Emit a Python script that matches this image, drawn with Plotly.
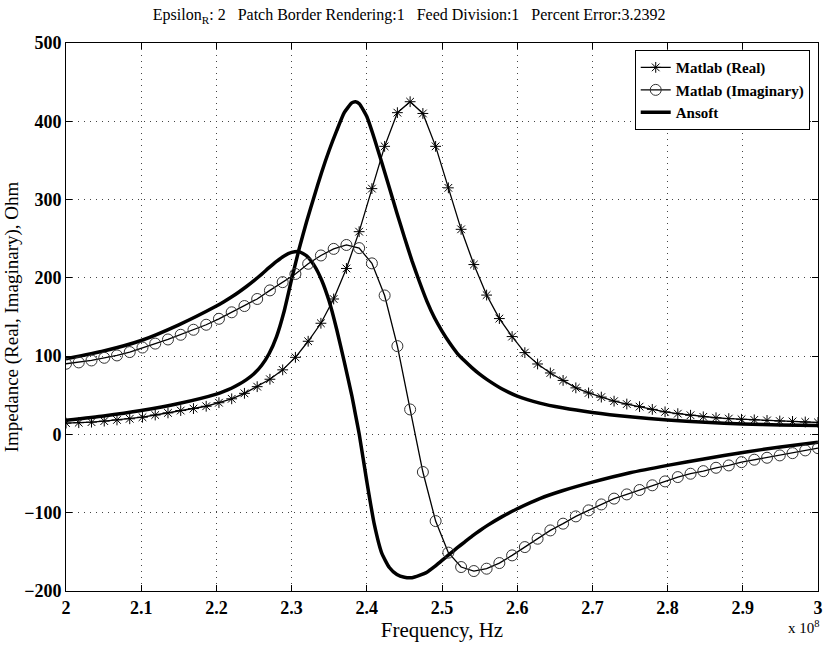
import numpy as np
import plotly.graph_objects as go

# ---------------- data ----------------
# Matlab samples: 60 evenly spaced frequencies from 2e8 to 3e8 Hz
matlab_freq = np.linspace(2e8, 3e8, 60)
matlab_real = [14.5, 15.0, 15.7, 17.0, 18.5, 20.0, 22.0, 24.8, 27.5, 30.5,
               33.0, 36.0, 40.5, 45.5, 52.5, 61.0, 70.5, 82.5, 98.5, 119,
               142, 173, 212, 259, 314, 368, 411, 425, 410, 368,
               315, 262, 217, 178, 148, 125, 104.5, 90, 78.5, 69,
               59.5, 53, 47.7, 42.5, 38.8, 35.5, 32, 28.8, 26.5, 24.5,
               22.5, 21.3, 20.2, 19.3, 18.6, 17.9, 17.1, 16.6, 15.9, 15.3]
matlab_imag = [90.3, 92, 94.5, 97.9, 100.9, 105.2, 111, 116, 121.3, 127.3,
               133.7, 140.1, 147.7, 156, 164, 173, 184, 194.5, 205, 218,
               228.6, 237, 242, 238, 218.5, 177.5, 112.8, 31.9, -48, -110.7,
               -151, -169.4, -174.5, -171.5, -164.3, -154.5, -143.9, -133.2, -122.6, -114,
               -104.7, -97, -89.4, -82, -76.6, -71, -65, -60, -54.5, -50.2,
               -46.9, -42.6, -39.6, -35.4, -32.3, -29.8, -26.8, -23.9, -20.4, -17.5]

ansoft_freq_e8 = [2.00, 2.05, 2.10, 2.15, 2.20, 2.21, 2.22, 2.23, 2.24, 2.25,
                  2.26, 2.27, 2.28, 2.29, 2.30, 2.31, 2.32, 2.33, 2.34, 2.35,
                  2.36, 2.37, 2.38, 2.385, 2.39, 2.40, 2.41, 2.42, 2.43, 2.44,
                  2.45, 2.46, 2.47, 2.48, 2.49, 2.50, 2.51, 2.52, 2.53, 2.54,
                  2.55, 2.56, 2.58, 2.60, 2.63, 2.66, 2.70, 2.75, 2.80, 2.85,
                  2.90, 2.95, 3.00]
ansoft_real = [18, 23.5, 30.5, 39.5, 51.5, 55, 59, 64, 70, 77.5,
               88, 103, 125, 157, 198, 237, 272, 304, 335, 363,
               388, 411, 423.5, 425, 422.5, 406, 378, 347, 315, 283,
               252, 222, 195, 170, 149, 132, 117, 104, 94, 85,
               77, 70, 58, 49, 40, 34, 28, 22.5, 18.5, 15.5,
               13.3, 12.2, 11.5]
ansoft_imag = [96.5, 106.5, 120, 140, 164, 169.5, 175.5, 182, 189, 196.5,
               204.5, 213, 221, 228, 232.5, 233.5, 228, 216, 197, 170,
               134, 93, 50, 25, 0, -60, -115, -152, -170, -179,
               -182.5, -183, -180, -176, -169, -161, -153, -145, -137.5, -130,
               -123, -116.5, -105, -95, -82, -72, -61, -49, -39.5, -31,
               -23, -16, -10]

x_tick_vals_e8 = [2.0, 2.1, 2.2, 2.3, 2.4, 2.5, 2.6, 2.7, 2.8, 2.9, 3.0]
x_tick_text = ["2", "2.1", "2.2", "2.3", "2.4", "2.5", "2.6", "2.7", "2.8", "2.9", "3"]
y_tick_vals = [-200, -100, 0, 100, 200, 300, 400, 500]

# ---------------- figure ----------------
ansoft_freq = [v * 1e8 for v in ansoft_freq_e8]
FONT = "Liberation Serif"

fig = go.Figure()
fig.add_trace(go.Scatter(
    x=ansoft_freq, y=ansoft_real, mode="lines", name="Ansoft",
    line=dict(color="black", width=3.5, shape="spline", smoothing=0.5),
    showlegend=False, legendrank=3))
fig.add_trace(go.Scatter(
    x=ansoft_freq, y=ansoft_imag, mode="lines", name="Ansoft",
    line=dict(color="black", width=3.5, shape="spline", smoothing=0.5),
    showlegend=True, legendrank=3))
fig.add_trace(go.Scatter(
    x=matlab_freq, y=matlab_real, mode="lines+markers", name="Matlab (Real)",
    line=dict(color="black", width=1.3),
    marker=dict(symbol="asterisk-open", size=9, color="black",
                line=dict(color="#222", width=1)),
    legendrank=1))
fig.add_trace(go.Scatter(
    x=matlab_freq, y=matlab_imag, mode="lines+markers", name="Matlab (Imaginary)",
    line=dict(color="black", width=1.3),
    marker=dict(symbol="circle-open", size=11, color="#333",
                line=dict(color="#333", width=1)),
    legendrank=2))

axis_common = dict(
    showline=True, linecolor="black", linewidth=1, mirror="ticks",
    ticks="inside", ticklen=6, tickcolor="black",
    showgrid=True, gridcolor="#444", griddash="1px,5px", gridwidth=1,
    zeroline=False, automargin=False,
    tickfont=dict(family=FONT, size=18, color="black", weight="bold"),
)

fig.update_xaxes(
    range=[2e8, 3e8], tickvals=[v * 1e8 for v in x_tick_vals_e8], ticktext=x_tick_text,
    title=dict(text="Frequency, Hz", font=dict(family=FONT, size=21, color="black"), standoff=2),
    **axis_common)
fig.update_yaxes(
    range=[-200, 500], tickvals=y_tick_vals,
    title=dict(text="Impedance (Real, Imaginary), Ohm", font=dict(family=FONT, size=19, color="black"), standoff=0),
    **axis_common)

fig.update_layout(
    width=825, height=645,
    margin=dict(l=65.5, r=7, t=42.5, b=54.4),
    paper_bgcolor="white", plot_bgcolor="white",
    font=dict(family=FONT, color="black"),
    title=dict(text="Epsilon<sub>R</sub>: 2   Patch Border Rendering:1   Feed Division:1   Percent Error:3.2392",
               x=0.496, xanchor="center", y=0.977, yanchor="middle",
               font=dict(family=FONT, size=16, color="black")),
    legend=dict(x=0.989, y=0.987, xanchor="right", yanchor="top",
                bgcolor="white", bordercolor="black", borderwidth=1,
                font=dict(family=FONT, size=15, color="black", weight="bold"),
                tracegroupgap=0, itemwidth=30),
    showlegend=True,
)
fig.add_annotation(text="x 10<sup>8</sup>", xref="paper", yref="paper",
                   x=1.005, y=-0.045, xanchor="right", yanchor="top", showarrow=False,
                   font=dict(family=FONT, size=15, color="black"))

fig.write_html("out.html", config={"displayModeBar": False},
               post_script="document.body.style.margin='0px';")
